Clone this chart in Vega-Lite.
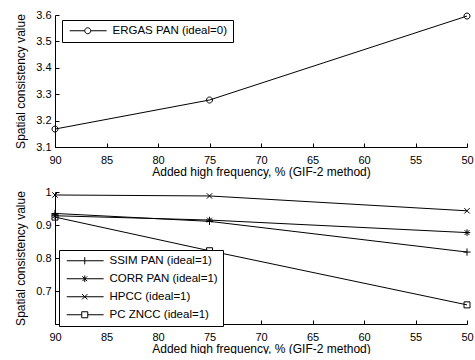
{
  "$schema": "https://vega.github.io/schema/vega-lite/v6.json",
  "padding": {"left": 14, "top": 9, "right": 5, "bottom": 0},
  "background": "#ffffff",
  "config": {
    "view": {"stroke": null},
    "font": "Liberation Sans",
    "axis": {
      "grid": false,
      "domainColor": "#000",
      "tickColor": "#000",
      "labelColor": "#000",
      "titleColor": "#000",
      "labelFontSize": 11,
      "titleFontSize": 12,
      "titleFontWeight": "normal",
      "labelFont": "Liberation Sans",
      "titleFont": "Liberation Sans",
      "tickSize": -4
    },
    "axisX": {"labelFlush": false, "labelPadding": 11, "titlePadding": 1},
    "axisY": {"labelPadding": 8, "titlePadding": 8},
    "legend": {
      "labelFont": "Liberation Sans",
      "labelFontSize": 11.5,
      "labelColor": "#000",
      "strokeColor": "#000",
      "fillColor": "#fff",
      "padding": 5,
      "symbolSize": 36,
      "symbolOpacity": 1,
      "symbolStrokeColor": "#000",
      "symbolStrokeWidth": 1,
      "labelOffset": 34,
      "rowPadding": 5
    }
  },
  "spacing": 9,
  "vconcat": [
    {
      "width": 412,
      "height": 132,
      "data": {"values": [
        {"series": "ERGAS PAN (ideal=0)", "hf": 90, "value": 3.168},
        {"series": "ERGAS PAN (ideal=0)", "hf": 75, "value": 3.278},
        {"series": "ERGAS PAN (ideal=0)", "hf": 50, "value": 3.596}
      ]},
      "encoding": {
        "x": {"field": "hf", "type": "quantitative", "scale": {"domain": [50, 90], "reverse": true},
              "axis": {"values": [90, 85, 80, 75, 70, 65, 60, 55, 50], "title": "Added high frequency, % (GIF-2 method)"}},
        "y": {"field": "value", "type": "quantitative", "scale": {"domain": [3.1, 3.6], "zero": false},
              "axis": {"values": [3.1, 3.2, 3.3, 3.4, 3.5, 3.6], "format": ".1f", "title": "Spatial consistency value"}}
      },
      "layer": [
        {"mark": {"type": "line", "color": "#000", "strokeWidth": 1}, "encoding": {"detail": {"field": "series"}}},
        {"mark": {"type": "point", "color": "#000", "filled": false, "size": 36, "strokeWidth": 1, "opacity": 1},
         "encoding": {"shape": {"field": "series", "scale": {"domain": ["ERGAS PAN (ideal=0)"], "range": ["M1,0A1,1 0 1,1 -1,0A1,1 0 1,1 1,0"]}, "legend": null}}},
        {"mark": {"type": "point", "color": "#000", "filled": false, "size": 36, "strokeWidth": 1, "opacity": 0},
         "encoding": {"shape": {"field": "series", "scale": {"domain": ["ERGAS PAN (ideal=0)"], "range": ["M-1,0L4,0M6,0L11.3,0M6,0A1,1 0 1,1 4,0A1,1 0 1,1 6,0"]},
           "legend": {"title": null, "orient": "none", "legendX": 7, "legendY": 5}}}}
      ],
      "resolve": {"scale": {"shape": "independent"}}
    },
    {
      "width": 412,
      "height": 132,
      "data": {"values": [
        {"series": "SSIM PAN (ideal=1)", "hf": 90, "value": 0.935},
        {"series": "SSIM PAN (ideal=1)", "hf": 75, "value": 0.911},
        {"series": "SSIM PAN (ideal=1)", "hf": 50, "value": 0.818},
        {"series": "CORR PAN (ideal=1)", "hf": 90, "value": 0.928},
        {"series": "CORR PAN (ideal=1)", "hf": 75, "value": 0.915},
        {"series": "CORR PAN (ideal=1)", "hf": 50, "value": 0.877},
        {"series": "HPCC (ideal=1)", "hf": 90, "value": 0.991},
        {"series": "HPCC (ideal=1)", "hf": 75, "value": 0.988},
        {"series": "HPCC (ideal=1)", "hf": 50, "value": 0.943},
        {"series": "PC ZNCC (ideal=1)", "hf": 90, "value": 0.924},
        {"series": "PC ZNCC (ideal=1)", "hf": 75, "value": 0.822},
        {"series": "PC ZNCC (ideal=1)", "hf": 50, "value": 0.658}
      ]},
      "encoding": {
        "x": {"field": "hf", "type": "quantitative", "scale": {"domain": [50, 90], "reverse": true},
              "axis": {"values": [90, 85, 80, 75, 70, 65, 60, 55, 50], "title": "Added high frequency, % (GIF-2 method)"}},
        "y": {"field": "value", "type": "quantitative", "scale": {"domain": [0.6, 1], "zero": false},
              "axis": {"values": [0.7, 0.8, 0.9, 1], "format": "~g", "title": "Spatial consistency value"}}
      },
      "layer": [
        {"mark": {"type": "line", "color": "#000", "strokeWidth": 1}, "encoding": {"detail": {"field": "series"}}},
        {"mark": {"type": "point", "color": "#000", "filled": false, "size": 36, "strokeWidth": 1, "opacity": 1},
         "encoding": {"shape": {"field": "series",
           "scale": {"domain": ["SSIM PAN (ideal=1)", "CORR PAN (ideal=1)", "HPCC (ideal=1)", "PC ZNCC (ideal=1)"],
                     "range": ["M-1.2,0L1.2,0M0,-1.2L0,1.2",
                               "M-1.1,0L1.1,0M0,-1.1L0,1.1M-0.8,-0.8L0.8,0.8M-0.8,0.8L0.8,-0.8",
                               "M-0.9,-0.9L0.9,0.9M-0.9,0.9L0.9,-0.9",
                               "M-1,-1L1,-1L1,1L-1,1Z"]}, "legend": null}}},
        {"mark": {"type": "point", "color": "#000", "filled": false, "size": 36, "strokeWidth": 1, "opacity": 0},
         "encoding": {"shape": {"field": "series",
           "scale": {"domain": ["SSIM PAN (ideal=1)", "CORR PAN (ideal=1)", "HPCC (ideal=1)", "PC ZNCC (ideal=1)"],
                     "range": ["M-1,0L11.3,0M5,-1.2L5,1.2",
                               "M-1,0L11.3,0M5,-1.1L5,1.1M4.2,-0.8L5.8,0.8M4.2,0.8L5.8,-0.8",
                               "M-1,0L11.3,0M4.1,-0.9L5.9,0.9M4.1,0.9L5.9,-0.9",
                               "M-1,0L4,0M6,0L11.3,0M4,-1L6,-1L6,1L4,1Z"]},
           "legend": {"title": null, "orient": "none", "legendX": 4, "legendY": 58}}}}
      ],
      "resolve": {"scale": {"shape": "independent"}}
    }
  ]
}
